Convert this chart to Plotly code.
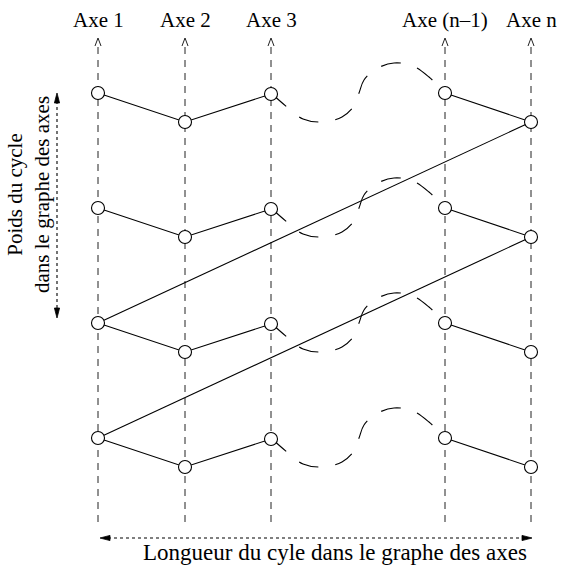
import plotly.graph_objects as go

W, H = 568, 565

# ---- diagram data -------------------------------------------------------
axis_labels = ["Axe 1", "Axe 2", "Axe 3", "Axe (n–1)", "Axe n"]
axis_x = [98, 185, 271, 445, 531]           # position of each axis
row_y = [93, 208, 323, 438]                 # level of each cycle
node_dy = [0, 29, 1, 0, 29]                 # node offset on each axis within a cycle
# dashed S-shaped link between "Axe 3" and "Axe (n-1)" (relative to the cycle level)
link_x = [271, 287, 303, 322, 342, 354, 359, 364, 376, 394, 413, 429, 445]
link_dy = [0, 14, 26, 29, 24, 13, 0, -13, -24, -30, -27, -16, 0]
# long diagonals: (from row, from axis) -> (to row, to axis)
diagonals = [((0, 4), (2, 0)), ((1, 4), (3, 0))]

axis_top, axis_bottom = 38, 525
label_y = 20
v_arrow = dict(x=57, y0=93, y1=318)
h_arrow = dict(y=538, x0=100, x1=532)
y_title = "Poids du cycle<br>dans le graphe des axes"
x_title = "Longueur du cyle dans le graphe des axes"

FONT = "Liberation Serif, Times New Roman, serif"
BLACK = "#000000"

fig = go.Figure()


def line(xs, ys, dash="solid", width=1.1, color=BLACK, shape="linear"):
    fig.add_trace(go.Scatter(x=xs, y=ys, mode="lines", hoverinfo="skip",
                             line=dict(color=color, width=width, dash=dash, shape=shape,
                                       smoothing=1.0 if shape == "spline" else None)))


def head(tip, direction, length=10, half=2.6):
    tx, ty = tip
    dx, dy = direction
    bx, by = tx - dx * length, ty - dy * length
    px, py = -dy * half, dx * half
    fig.add_trace(go.Scatter(x=[tx, bx + px, bx - px, tx], y=[ty, by + py, by - py, ty],
                             mode="lines", fill="toself", fillcolor=BLACK, hoverinfo="skip",
                             line=dict(color=BLACK, width=0.8)))


# dashed axes with open arrowheads
for x in axis_x:
    line([x, x], [axis_top + 9, axis_bottom], dash="7px,6px", width=1, color="#222222")
    line([x - 3, x, x + 3], [axis_top + 8, axis_top, axis_top + 8], width=1, color="#222222")


def node(r, a):
    return axis_x[a], row_y[r] + node_dy[a]


# dashed S links
for r, y in enumerate(row_y):
    line(link_x, [y + d for d in link_dy], dash="20px,17px", width=1.1, shape="spline")

# solid cycle segments
for r in range(len(row_y)):
    pts = [node(r, a) for a in (0, 1, 2)]
    line([p[0] for p in pts], [p[1] for p in pts])
    pts = [node(r, a) for a in (3, 4)]
    line([p[0] for p in pts], [p[1] for p in pts])

for (r0, a0), (r1, a1) in diagonals:
    p0, p1 = node(r0, a0), node(r1, a1)
    line([p0[0], p1[0]], [p0[1], p1[1]])

# nodes
nx, ny = [], []
for r in range(len(row_y)):
    for a in range(len(axis_x)):
        px, py = node(r, a)
        nx.append(px)
        ny.append(py)
fig.add_trace(go.Scatter(x=nx, y=ny, mode="markers", hoverinfo="skip",
                         marker=dict(symbol="circle", size=13, color="white",
                                     line=dict(color=BLACK, width=1.1))))

# dotted double arrows
line([v_arrow["x"]] * 2, [v_arrow["y0"] + 8, v_arrow["y1"] - 8], dash="dot", width=1.1)
head((v_arrow["x"], v_arrow["y0"]), (0, -1))
head((v_arrow["x"], v_arrow["y1"]), (0, 1))
line([h_arrow["x0"] + 8, h_arrow["x1"] - 8], [h_arrow["y"]] * 2, dash="dot", width=1.1)
head((h_arrow["x0"], h_arrow["y"]), (-1, 0))
head((h_arrow["x1"], h_arrow["y"]), (1, 0))

annotations = []
for x, lab in zip(axis_x, axis_labels):
    annotations.append(dict(x=x, y=label_y, text=lab, showarrow=False, xanchor="center",
                            yanchor="middle", font=dict(family=FONT, size=21, color=BLACK)))
annotations.append(dict(x=28, y=195, text=y_title,
                        textangle=-90, showarrow=False, xanchor="center", yanchor="middle",
                        font=dict(family=FONT, size=21, color=BLACK)))
annotations.append(dict(x=335, y=552, text=x_title, showarrow=False, xanchor="center",
                        yanchor="middle", font=dict(family=FONT, size=23, color=BLACK)))

fig.update_layout(
    width=W, height=H, margin=dict(l=0, r=0, t=0, b=0),
    paper_bgcolor="white", plot_bgcolor="white", showlegend=False,
    xaxis=dict(range=[0, W], visible=False, fixedrange=True),
    yaxis=dict(range=[H, 0], visible=False, fixedrange=True),
    annotations=annotations,
)

fig.write_html("out.html", config={"displayModeBar": False},
               post_script="document.body.style.margin='0';document.body.style.overflow='hidden';")
